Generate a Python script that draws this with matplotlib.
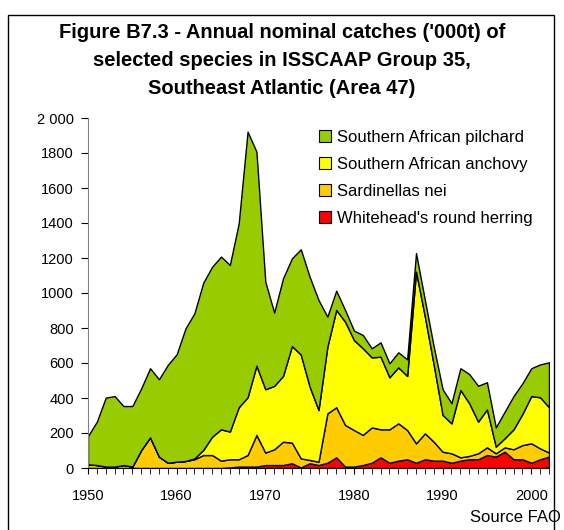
import matplotlib
matplotlib.use("Agg")
import matplotlib.pyplot as plt
from matplotlib.patches import Rectangle, Patch

plt.rcParams['font.family'] = ['Liberation Sans', 'DejaVu Sans']

years = list(range(1950, 2003))

# annual catches ('000t)
whitehead = [0, 0, 0, 0, 0, 0, 0, 0, 0, 0,
             0, 0, 0, 0, 0, 0, 3, 8, 8, 8,
             17, 17, 17, 27, 3, 27, 17, 30, 61, 8,
             8, 17, 30, 61, 30, 42, 50, 30, 50, 42,
             42, 30, 42, 50, 50, 74, 65, 93, 50, 50,
             30, 50, 65]
sardinellas = [21, 17, 8, 8, 17, 8, 103, 175, 65, 30,
               36, 40, 50, 74, 74, 42, 47, 42, 66, 181,
               71, 90, 133, 118, 52, 19, 19, 282, 286, 238,
               209, 172, 202, 160, 191, 213, 167, 111, 148, 108,
               51, 54, 19, 19, 34, 44, 19, 25, 57, 81,
               111, 62, 23]
anchovy = [0, 0, 0, 0, 0, 0, 0, 0, 0, 0,
           0, 0, 5, 29, 105, 179, 158, 297, 330, 396,
           362, 362, 376, 552, 593, 419, 295, 381, 556, 590,
           514, 495, 400, 415, 297, 320, 309, 981, 667, 439,
           210, 171, 385, 301, 181, 217, 38, 52, 114, 178,
           270, 292, 259]
pilchard = [162, 248, 394, 403, 337, 346, 352, 395, 442, 559,
            614, 758, 829, 956, 971, 987, 952, 1051, 1518, 1223,
            615, 419, 558, 501, 602, 628, 629, 172, 110, 67,
            54, 76, 52, 82, 80, 86, 95, 106, 95, 104,
            147, 115, 124, 167, 205, 155, 110, 152, 190, 175,
            159, 188, 257]

series_names = ["Whitehead's round herring", "Sardinellas nei",
                "Southern African anchovy", "Southern African pilchard"]
colors = ["#FF0000", "#FFCC00", "#FFFF00", "#99CC00"]

y_ticks = [0, 200, 400, 600, 800, 1000, 1200, 1400, 1600, 1800, 2000]
y_labels = ["0", "200", "400", "600", "800", "1000", "1200", "1400",
            "1600", "1800", "2 000"]
x_ticks = [1950, 1960, 1970, 1980, 1990, 2000]

fig = plt.figure(figsize=(5.64, 5.30), dpi=100)
ax = fig.add_axes([88 / 564, 62 / 530, 461 / 564, 350 / 530])

ax.stackplot(years, whitehead, sardinellas, anchovy, pilchard,
             colors=colors, edgecolor="black", linewidth=1.0)

ax.set_xlim(1950, 2002)
ax.set_ylim(0, 2000)
ax.set_yticks(y_ticks)
ax.set_yticklabels(y_labels)
ax.set_xticks(x_ticks)
ax.set_xticks(years, minor=True)
ax.tick_params(axis="y", direction="out", length=5, labelsize=10.5, pad=5)
ax.tick_params(axis="x", which="both", direction="out", length=4,
               labelsize=10.5, pad=11)
for s in ["top", "right"]:
    ax.spines[s].set_visible(False)
ax.spines["left"].set_color("#808080")

# legend, top entry first
handles = [Patch(facecolor=c, edgecolor="black", linewidth=0.8) for c in colors]
fig.legend(handles[::-1], series_names[::-1], loc="upper left",
           bbox_to_anchor=(304 / 564, 1 - 115 / 530), frameon=False,
           fontsize=12, handlelength=0.7, handleheight=0.7,
           handletextpad=0.4, labelspacing=0.72)

title_lines = ["Figure B7.3 - Annual nominal catches ('000t) of",
               "selected species in ISSCAAP Group 35,",
               "Southeast Atlantic (Area 47)"]
for i, line in enumerate(title_lines):
    fig.text(0.5, 1 - (33 + 28 * i) / 530, line, ha="center", va="center",
             fontsize=14.5, fontweight="bold")

fig.text(470 / 564, 1 - 517 / 530, "Source FAO", ha="left", va="center",
         fontsize=12)

fig.add_artist(Rectangle((8 / 564, -0.05), 546 / 564, 1.05 - 15 / 530,
                         transform=fig.transFigure, fill=False,
                         edgecolor="black", linewidth=1.0))

fig.savefig("out.png", dpi=100)
